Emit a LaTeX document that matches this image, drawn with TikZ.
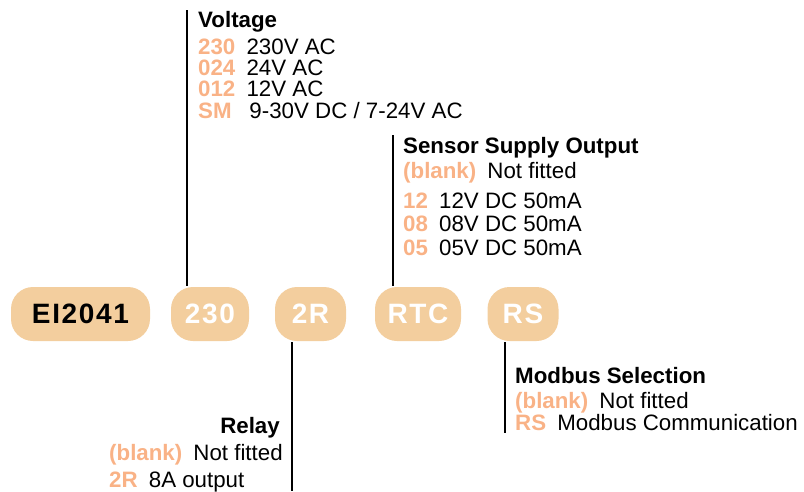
\documentclass[tikz,border=0pt]{standalone}
\usepackage{fontspec}
\setmainfont{Liberation Sans}
\newfontfamily\pillfont[LetterSpace=6]{Liberation Sans}

\definecolor{pillola}{HTML}{F3CE9E}
\definecolor{codice}{HTML}{F9B286}

% codice arancione + descrizione
\newcommand{\voce}[2]{{\color{codice}\bfseries #1}\hspace{0.5em}#2}

\begin{document}
\begin{tikzpicture}[x=1pt, y=-1pt, line width=2.4pt]
	% Stili
	\tikzset{pill/.style={fill=pillola, rounded corners=22pt, minimum height=54pt, inner sep=0pt, font=\pillfont\fontsize{28}{32}\selectfont\bfseries, text=white},
		titolo/.style={inner sep=0pt, font=\fontsize{22.3}{26}\selectfont\bfseries},
		riga/.style={inner sep=0pt, anchor=base west, font=\fontsize{22.3}{26}\selectfont}}
	\useasboundingbox (0,0) rectangle (804,491);

	% Codice prodotto
	\node[pill, minimum width=139pt, text=black] (P_model) at (80.5, 314) {EI2041};
	\node[pill, minimum width=78pt] (P_volt) at (210, 314) {230};
	\node[pill, minimum width=71pt] (P_relay) at (310.5, 314) {2R};
	\node[pill, minimum width=86pt] (P_rtc) at (418, 314) {RTC};
	\node[pill, minimum width=71pt] (P_rs) at (523, 314) {RS};

	% Tensione
	\coordinate (V_top) at (187, 10);
	\draw (V_top) -- (V_top |- P_volt.north);
	\node[titolo, anchor=base west] (V_title) at (197, 27) {Voltage};
	\node[riga] (V_230) at (197, 54) {\voce{230}{230V AC}};
	\node[riga] (V_024) at (197, 75) {\voce{024}{24V AC}};
	\node[riga] (V_012) at (197, 96) {\voce{012}{12V AC}};
	\node[riga] (V_sm)  at (197, 118) {\voce{SM\hspace{0.3em}}{9-30V DC / 7-24V AC}};

	% Alimentazione sensore
	\coordinate (S_top) at (393, 135);
	\draw (S_top) -- (S_top |- P_rtc.north);
	\node[titolo, anchor=base west] (S_title) at (402, 153) {Sensor Supply Output};
	\node[riga] (S_blank) at (402, 178) {\voce{(blank)}{Not fitted}};
	\node[riga] (S_12) at (402, 208.5) {\voce{12}{12V DC 50mA}};
	\node[riga] (S_08) at (402, 231) {\voce{08}{08V DC 50mA}};
	\node[riga] (S_05) at (402, 255) {\voce{05}{05V DC 50mA}};

	% Rele'
	\coordinate (R_bot) at (292, 491);
	\draw (P_relay.south -| R_bot) -- (R_bot);
	\node[titolo, anchor=base east] (R_title) at (281, 433) {Relay};
	\node[riga] (R_blank) at (108, 460) {\voce{(blank)}{Not fitted}};
	\node[riga] (R_2r) at (108, 487) {\voce{2R}{8A output}};

	% Modbus
	\coordinate (M_bot) at (505, 433);
	\draw (P_rs.south -| M_bot) -- (M_bot);
	\node[titolo, anchor=base west] (M_title) at (514, 383) {Modbus Selection};
	\node[riga] (M_blank) at (514, 408) {\voce{(blank)}{Not fitted}};
	\node[riga] (M_rs) at (514, 430) {\voce{RS}{Modbus Communication}};
\end{tikzpicture}
\end{document}
